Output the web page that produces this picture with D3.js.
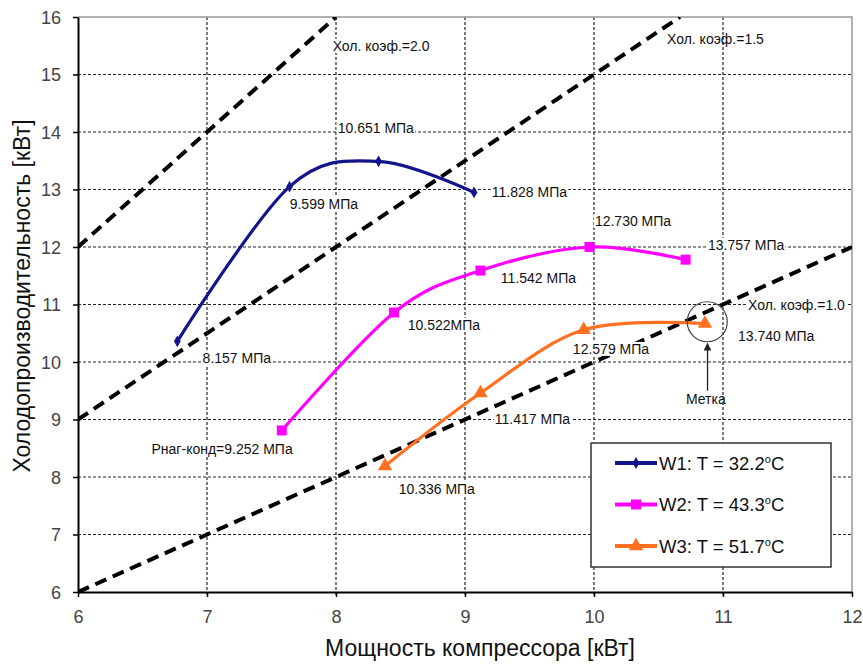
<!DOCTYPE html>
<html>
<head>
<meta charset="utf-8">
<script src="https://cdn.jsdelivr.net/npm/d3@7"></script>
<style>
  body { margin: 0; background: #fff; }
  text { font-family: "Liberation Sans", Arial, sans-serif; }
</style>
</head>
<body>
<div id="chart"></div>
<script>
// Series data: [compressor power, cooling capacity]
const w1 = [[6.77, 10.36], [7.64, 13.05], [8.33, 13.49], [9.07, 12.95]];
const w2 = [[7.58, 8.81], [8.45, 10.86], [9.12, 11.59], [9.965, 12.0], [10.71, 11.78]];
const w3 = [[8.38, 8.19], [9.12, 9.46], [9.92, 10.56], [10.86, 10.67]];

const seriesNames = ["W1: T = 32.2", "W2: T = 43.3", "W3: T = 51.7"];
const seriesColors = ["#14148c", "#ff00ff", "#ff7020"];

// COP reference lines
const copValues = [2.0, 1.5, 1.0];

const xTicks = [6, 7, 8, 9, 10, 11, 12];
const yTicks = [6, 7, 8, 9, 10, 11, 12, 13, 14, 15, 16];

// Annotations: [text, x, y, white background]
const labels = [
  ["Хол. коэф.=2.0", 7.974, 15.41, true],
  ["Хол. коэф.=1.5", 10.566, 15.53, false],
  ["Хол. коэф.=1.0", 11.194, 10.91, true],
  ["10.651 МПа", 8.013, 13.985, true],
  ["9.599 МПа", 7.641, 12.664, true],
  ["11.828 МПа", 9.208, 12.871, true],
  ["8.157 МПа", 6.966, 9.985, true],
  ["Рнаг-конд=9.252 МПа", 6.57, 8.407, true],
  ["10.522МПа", 8.556, 10.559, true],
  ["11.542 МПа", 9.278, 11.376, true],
  ["12.730 МПа", 10.007, 12.367, true],
  ["13.757 МПа", 10.884, 11.95, true],
  ["12.579 МПа", 9.836, 10.141, true],
  ["13.740 МПа", 11.117, 10.367, true],
  ["11.417 МПа", 9.231, 8.924, true],
  ["10.336 МПа", 8.486, 7.707, true],
  ["Метка", 10.713, 9.272, false]
];
const markCircle = [10.878, 10.70];
const markArrow = [[10.88, 9.50], [10.88, 10.32]];

const width = 863, height = 664;
const margin = {top: 17, right: 11, bottom: 72, left: 78};

const svg = d3.select("#chart").append("svg")
  .attr("width", width)
  .attr("height", height);

const x = d3.scaleLinear().domain([6, 12]).range([margin.left, width - margin.right]);
const y = d3.scaleLinear().domain([6, 16]).range([height - margin.bottom, margin.top]);

// Grid
const grid = svg.append("g");
grid.selectAll("line.vg")
  .data(xTicks.slice(1, -1))
  .join("line")
  .attr("x1", d => x(d)).attr("x2", d => x(d))
  .attr("y1", y(16)).attr("y2", y(6) + 5)
  .attr("stroke", "#222").attr("stroke-width", 1.2)
  .attr("stroke-dasharray", "3,2");
grid.selectAll("line.hg")
  .data(yTicks.slice(1, -1))
  .join("line")
  .attr("x1", x(6)).attr("x2", x(12))
  .attr("y1", d => y(d)).attr("y2", d => y(d))
  .attr("stroke", "#222").attr("stroke-width", 1.2)
  .attr("stroke-dasharray", "3,2");

// Border top/right
svg.append("path")
  .attr("d", `M${x(6)},${y(16)}H${x(12)}V${y(6)}`)
  .attr("fill", "none").attr("stroke", "#999").attr("stroke-width", 1.5);

// Axes
const xAxis = svg.append("g")
  .attr("transform", `translate(0,${y(6)})`)
  .call(d3.axisBottom(x).tickValues(xTicks).tickFormat(d3.format("d")).tickSize(5).tickSizeOuter(0));
const yAxis = svg.append("g")
  .attr("transform", `translate(${x(6)},0)`)
  .call(d3.axisLeft(y).tickValues(yTicks).tickFormat(d3.format("d")).tickSize(5).tickSizeOuter(0));
[xAxis, yAxis].forEach(a => {
  a.select(".domain").attr("stroke", "#000").attr("stroke-width", 2);
  a.selectAll(".tick line").attr("stroke", "#000").attr("stroke-width", 1.5);
  a.selectAll(".tick text")
    .attr("fill", "#444")
    .style("font-size", "18px")
    .style("font-family", "'Liberation Sans', Arial, sans-serif");
});
xAxis.selectAll(".tick text").attr("dy", "1.25em");
yAxis.selectAll(".tick text").attr("x", -17).attr("dy", "0.36em");

// Annotation labels with background
const lab = svg.append("g");
labels.forEach(l => {
  const t = lab.append("text")
    .attr("x", x(l[1])).attr("y", y(l[2]))
    .style("font-size", "14px")
    .attr("fill", "#111")
    .text(l[0]);
  if (l[3]) {
    const b = t.node().getBBox();
    lab.insert("rect", "text")
      .attr("x", b.x - 1).attr("y", b.y + 1)
      .attr("width", b.width + 2).attr("height", b.height - 2)
      .attr("fill", "#fff");
  }
});

// COP lines
svg.append("clipPath").attr("id", "plot")
  .append("rect")
  .attr("x", x(6)).attr("y", y(16))
  .attr("width", x(12) - x(6)).attr("height", y(6) - y(16));
svg.append("g").attr("clip-path", "url(#plot)")
  .selectAll("line")
  .data(copValues)
  .join("line")
  .attr("x1", x(6)).attr("y1", d => y(6 * d))
  .attr("x2", d => x(Math.min(12, 16 / d))).attr("y2", d => y(Math.min(12 * d, 16)))
  .attr("stroke", "#000").attr("stroke-width", 4)
  .attr("stroke-dasharray", "12,7");

// Series
const line = d3.line().x(d => x(d[0])).y(d => y(d[1])).curve(d3.curveCardinal.tension(0));
const allSeries = [w1, w2, w3];
const markerTypes = [d3.symbolDiamond, d3.symbolSquare, d3.symbolTriangle];
const markerSizes = [40, 100, 90];

allSeries.forEach((s, i) => {
  svg.append("path")
    .datum(s)
    .attr("d", line)
    .attr("fill", "none")
    .attr("stroke", seriesColors[i])
    .attr("stroke-width", 3.2);
  svg.append("g").selectAll("path")
    .data(s)
    .join("path")
    .attr("transform", d => `translate(${x(d[0])},${y(d[1])})`)
    .attr("d", d3.symbol().type(markerTypes[i]).size(markerSizes[i]))
    .attr("fill", seriesColors[i]);
});

// Label text on top
lab.raise();

// Mark circle and arrow
svg.append("circle")
  .attr("cx", x(markCircle[0])).attr("cy", y(markCircle[1]))
  .attr("r", 20)
  .attr("fill", "none").attr("stroke", "#444").attr("stroke-width", 1.2);
svg.append("defs").append("marker")
  .attr("id", "arr").attr("viewBox", "0 0 10 10")
  .attr("refX", 9).attr("refY", 5)
  .attr("markerWidth", 6).attr("markerHeight", 6)
  .attr("orient", "auto")
  .append("path").attr("d", "M0,0L10,5L0,10z").attr("fill", "#222");
svg.append("line")
  .attr("x1", x(markArrow[0][0])).attr("y1", y(markArrow[0][1]))
  .attr("x2", x(markArrow[1][0])).attr("y2", y(markArrow[1][1]))
  .attr("stroke", "#222").attr("stroke-width", 1.3)
  .attr("marker-end", "url(#arr)");

// Legend
const lg = svg.append("g").attr("transform", "translate(591,443)");
lg.append("rect")
  .attr("width", 240).attr("height", 124)
  .attr("fill", "#fff").attr("stroke", "#333").attr("stroke-width", 1.5);
seriesNames.forEach((n, i) => {
  const cy = 20 + i * 41.5;
  lg.append("line")
    .attr("x1", 24).attr("x2", 66).attr("y1", cy).attr("y2", cy)
    .attr("stroke", seriesColors[i]).attr("stroke-width", 4);
  lg.append("path")
    .attr("transform", `translate(45,${cy})`)
    .attr("d", d3.symbol().type(markerTypes[i]).size(markerSizes[i]))
    .attr("fill", seriesColors[i]);
  const t = lg.append("text")
    .attr("x", 68).attr("y", cy + 6.5)
    .style("font-size", "18.5px")
    .attr("fill", "#111")
    .text(n);
  t.append("tspan").attr("dy", -7).style("font-size", "11px").text("o");
  t.append("tspan").attr("dy", 7).text("C");
});

// Axis titles
svg.append("text")
  .attr("x", 480).attr("y", 656)
  .attr("text-anchor", "middle")
  .style("font-size", "23px")
  .attr("fill", "#111")
  .text("Мощность компрессора [кВт]");
svg.append("text")
  .attr("transform", "translate(30,296) rotate(-90)")
  .attr("text-anchor", "middle")
  .style("font-size", "23px")
  .attr("fill", "#111")
  .text("Холодопроизводительность [кВт]");
</script>
</body>
</html>
